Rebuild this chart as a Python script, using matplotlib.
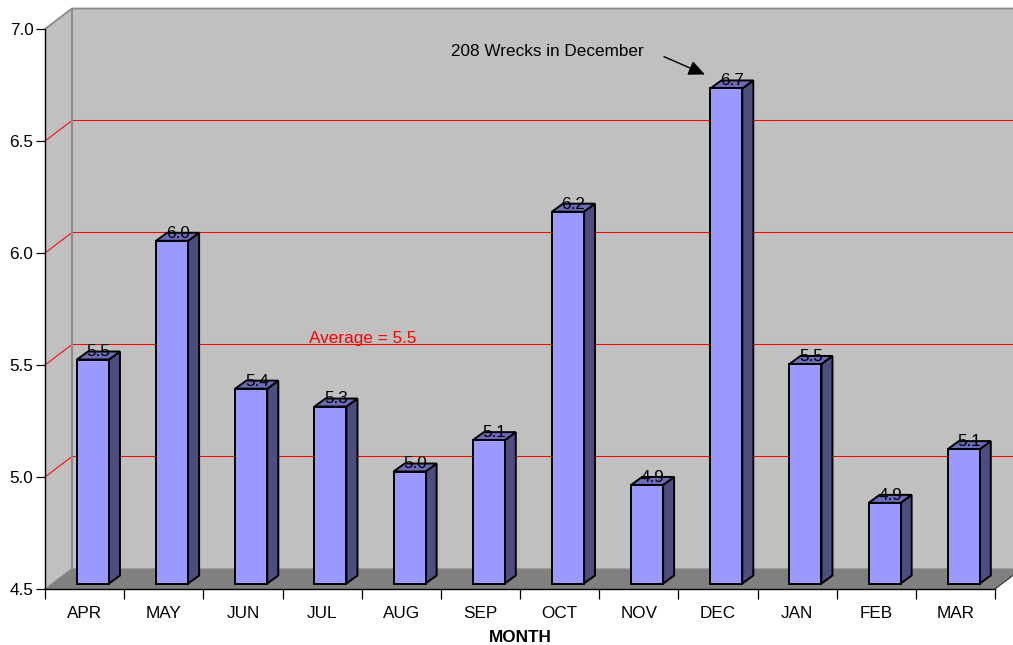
import numpy as np
import matplotlib
matplotlib.use('Agg')
import matplotlib.pyplot as plt
from matplotlib.patches import Polygon

plt.rcParams['font.family'] = ['Liberation Sans', 'DejaVu Sans']

months = ['APR', 'MAY', 'JUN', 'JUL', 'AUG', 'SEP', 'OCT', 'NOV', 'DEC', 'JAN', 'FEB', 'MAR']
wrecks = np.array([5.50, 6.03, 5.37, 5.29, 5.00, 5.14, 6.16, 4.94, 6.71, 5.48, 4.86, 5.10])
y_ticks = [4.5, 5.0, 5.5, 6.0, 6.5, 7.0]
grid_values = [5.0, 5.5, 6.0, 6.5]
average_text = 'Average = 5.5'
note_text = '208 Wrecks in December'

# plot box in pixels, the axes sit exactly on it
W, H = 1013, 645
LEFT, RIGHT, TOP, BOTTOM = 45, 995, 29, 589
FS = 12.3

fig = plt.figure(figsize=(W / 100, H / 100), dpi=100)
ax = fig.add_axes([LEFT / W, 1 - BOTTOM / H, (RIGHT - LEFT) / W, (BOTTOM - TOP) / H])
ax.set_xlim(0, 12)
ax.set_ylim(4.5, 7.0)

# pixel sizes in data units
ux = (RIGHT - LEFT) / 12
uy = (BOTTOM - TOP) / 2.5
wall_dx, wall_dy = 27 / ux, 20.5 / uy
bar_dx, bar_dy = 11 / ux, 8 / uy
bar_lift = 5.5 / uy
bar_left, bar_w = 0.404, 0.404


def at(px, py):
    return (px - LEFT) / ux, 4.5 + (BOTTOM - py) / uy


# walls and floor of the box
x_end = 12 + wall_dx
ax.add_patch(Polygon([(0, 4.5), (0, 7), (wall_dx, 7 + wall_dy), (x_end, 7 + wall_dy),
                      (x_end, 4.5 + wall_dy), (12, 4.5)],
                     fc='#c0c0c0', ec='none', clip_on=False, zorder=1))
ax.add_patch(Polygon([(0, 4.5), (wall_dx, 4.5 + wall_dy), (x_end, 4.5 + wall_dy), (12, 4.5)],
                     fc='#808080', ec='none', clip_on=False, zorder=1.1))

# gridlines run over the side wall and the back wall
for g in grid_values:
    ax.plot([0, wall_dx, x_end], [g, g + wall_dy, g + wall_dy], color='#ff0000', lw=0.75,
            clip_on=False, zorder=1.5, solid_joinstyle='miter')

ax.plot([wall_dx, wall_dx], [4.5 + wall_dy, 7 + wall_dy], color='#8c8c8c', lw=1.5, clip_on=False, zorder=1.6)
ax.plot([0, wall_dx, x_end], [7, 7 + wall_dy, 7 + wall_dy], color='#8f8585', lw=1.3, clip_on=False, zorder=1.6)
ax.plot([wall_dx, x_end], [4.5 + wall_dy, 4.5 + wall_dy], color='#8f7f7f', lw=0.8, clip_on=False, zorder=1.6)
ax.plot([0, wall_dx], [4.5, 4.5 + wall_dy], color='#8f8585', lw=0.8, clip_on=False, zorder=1.6)
ax.plot([12, x_end], [4.5, 4.5 + wall_dy], color='#333333', lw=0.8, clip_on=False, zorder=1.6)

# 3d bars: front from the library, top and side faces from the same values
xs = np.arange(12) + bar_left
base = 4.5 + bar_lift
ax.bar(xs, wrecks - 4.5, bottom=base, width=bar_w, align='edge', color='#9999ff',
       edgecolor='black', linewidth=1.4, zorder=3.2, clip_on=False)
for x, v in zip(xs, wrecks):
    top = v + bar_lift
    side = Polygon([(x + bar_w, base), (x + bar_w + bar_dx, base + bar_dy), (x + bar_w + bar_dx, top + bar_dy),
                    (x + bar_w, top)], fc='#4d4d80', ec='black', lw=1.4, zorder=3.1, joinstyle='miter')
    lid = Polygon([(x, top), (x + bar_dx, top + bar_dy), (x + bar_w + bar_dx, top + bar_dy), (x + bar_w, top)],
                  fc='#6c6cb8', ec='black', lw=1.4, zorder=3.1, joinstyle='miter')
    ax.add_patch(side)
    ax.add_patch(lid)
    ax.text(x + bar_w / 2 + bar_dx / 2, top + 7.6 / uy, f'{v:.1f}', ha='center', va='center',
            fontsize=FS, color='black', zorder=4, clip_on=False)

# labels inside the box
ax.text(*at(309, 338), average_text, color='#ff0000', fontsize=FS, ha='left', va='center', zorder=2)
ax.text(*at(451, 51), note_text, color='black', fontsize=FS, ha='left', va='center', zorder=5)
ax.annotate('', xy=at(705, 74.5), xytext=at(664, 56.7), zorder=5,
            arrowprops=dict(arrowstyle='-|>,head_length=1.0,head_width=0.45', color='black', lw=1.0,
                            mutation_scale=10, shrinkA=0, shrinkB=0))

# axes
for s in ['top', 'right']:
    ax.spines[s].set_visible(False)
for s in ['left', 'bottom']:
    ax.spines[s].set_linewidth(1.0)
    ax.spines[s].set_zorder(6)
ax.patch.set_visible(False)

ax.set_yticks(y_ticks)
ax.set_yticklabels([f'{t:.1f}' for t in y_ticks], fontsize=FS)
ax.tick_params(axis='y', length=6.5, width=0.9, pad=1.8)
ax.set_xticks(np.arange(13))
ax.set_xticklabels([])
ax.tick_params(axis='x', length=7, width=0.9)
ax.set_xticks(np.arange(12) + 0.5, minor=True)
ax.set_xticklabels(months, minor=True, fontsize=FS)
ax.tick_params(axis='x', which='minor', length=0, pad=12.5)
ax.set_xlabel('MONTH', fontweight='bold', fontsize=FS, labelpad=6.5)

fig.savefig('out.png', dpi=100, facecolor='white')
